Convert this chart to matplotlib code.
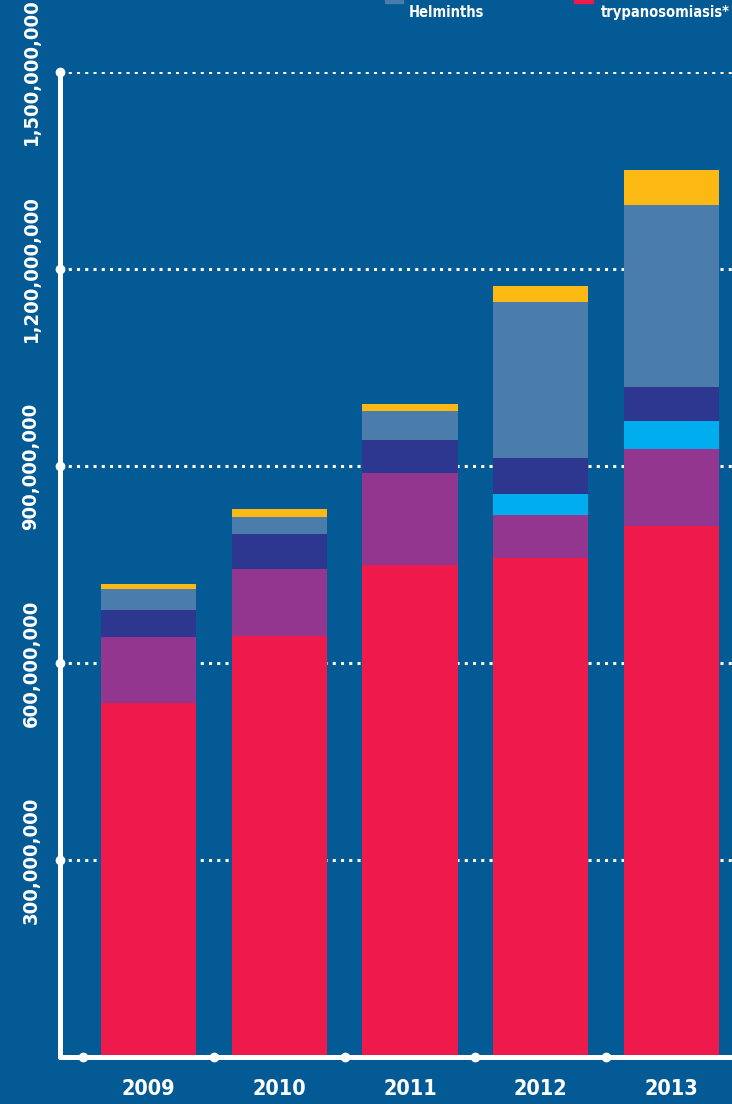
import matplotlib.pyplot as plt
from matplotlib.patches import Rectangle
import numpy as np

# values in millions
years = ['2009', '2010', '2011', '2012', '2013']
trypanosomiasis = [539, 641, 749, 760, 809]
purple_series = [100, 102, 140, 65, 117]
cyan_series = [0, 0, 0, 32, 43]
navy_series = [41, 53, 50, 55, 51]
helminths = [32, 26, 44, 238, 277]
yellow_series = [8, 13, 12, 24, 54]
yticks = [300e6, 600e6, 900e6, 1200e6, 1500e6]

bg = '#035a94'
series = [
    (trypanosomiasis, '#ed1a4b'),
    (purple_series, '#93368f'),
    (cyan_series, '#00aeef'),
    (navy_series, '#2e378f'),
    (helminths, '#4a7cac'),
    (yellow_series, '#fdb913'),
]

txt = dict(family='DejaVu Sans', fontstretch='condensed', fontweight='bold',
           color='white')

fig = plt.figure(figsize=(7.32, 11.04), dpi=100, facecolor=bg)
W, H = 732, 1104
ax = fig.add_axes([60 / W, (H - 1057) / H, (W - 60) / W, (1057 - 72) / H])
ax.set_facecolor(bg)

x = np.arange(len(years))
bottom = np.zeros(len(years))
for vals, col in series:
    v = np.array(vals) * 1e6
    ax.bar(x, v, width=0.727, bottom=bottom, color=col, zorder=3)
    bottom += v

ax.set_xlim(-0.677, 4.463)
ax.set_ylim(0, 1500e6)

for yt in yticks:
    ax.axhline(yt, color='white', lw=2.2, linestyle=(0, (1, 1.7)), zorder=1)

ax.set_yticks(yticks)
ax.set_yticklabels(['{:,}'.format(int(t)) for t in yticks], rotation=90,
                   va='center', fontsize=14.5, **txt)
ax.set_xticks(x)
ax.set_xticklabels(years, fontsize=15.5, **txt)
ax.tick_params(length=0)
ax.tick_params(axis='y', pad=14)
ax.tick_params(axis='x', pad=16)

for s in ['top', 'right']:
    ax.spines[s].set_visible(False)
for s in ['left', 'bottom']:
    ax.spines[s].set_color('white')
    ax.spines[s].set_linewidth(3.6)
    ax.spines[s].set_zorder(4)
    ax.spines[s].set_capstyle('round')

# dots on the axes
ax.plot(np.full(len(yticks), -0.677), yticks, 'o', color='white', ms=6,
        clip_on=False, zorder=5)
ax.plot(x - 0.5, np.zeros(len(years)), 'o', color='white', ms=6,
        clip_on=False, zorder=5)

# legend, mostly cut off at the top
fig.patches.append(Rectangle((385 / W, 1 - 3 / H), 18 / W, 5 / H,
                             transform=fig.transFigure, color='#4a7cac'))
fig.patches.append(Rectangle((574 / W, 1 - 3 / H), 19 / W, 5 / H,
                             transform=fig.transFigure, color='#ed1a4b'))
fig.text(409 / W, 1 - 5 / H, 'Helminths', fontsize=10.5, va='top', ha='left',
         **txt)
fig.text(601 / W, 1 - 5 / H, 'trypanosomiasis*', fontsize=10.5, va='top',
         ha='left', **txt)

plt.savefig('out.png', dpi=100, facecolor=bg)
plt.close('all')
